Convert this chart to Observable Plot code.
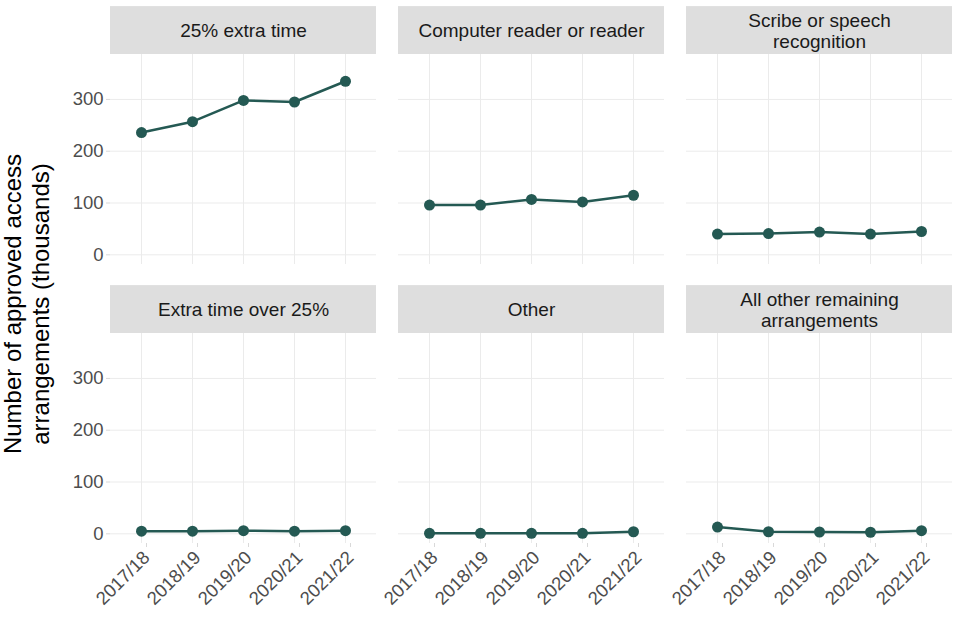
<!DOCTYPE html>
<html>
<head>
<meta charset="utf-8">
<script src="https://cdn.jsdelivr.net/npm/d3@7"></script>
<script src="https://cdn.jsdelivr.net/npm/@observablehq/plot@0.6"></script>
<style>
  html, body { margin: 0; padding: 0; background: #fff; }
  #wrap { position: relative; width: 960px; height: 640px; font-family: "Liberation Sans", Arial, sans-serif; }
  #ylab { position: absolute; left: -173px; top: 276px; width: 400px; text-align: center;
          font-size: 24px; line-height: 28px; color: #000; transform: rotate(-90deg); transform-origin: 50% 50%; }
  #chart { position: absolute; left: 0; top: 0; }
</style>
</head>
<body>
<div id="wrap">
  <div id="chart"></div>
  <div id="ylab">Number of approved access<br>arrangements (thousands)</div>
</div>
<script>
const years = ["2017/18", "2018/19", "2019/20", "2020/21", "2021/22"];
const categories = ["25% extra time", "Computer reader or reader", "Scribe or speech recognition",
                    "Extra time over 25%", "Other", "All other remaining arrangements"];
const stripLabels = ["25% extra time", "Computer reader or reader", "Scribe or speech\nrecognition",
                     "Extra time over 25%", "Other", "All other remaining\narrangements"];
const extraTime25 = [236, 257, 298, 295, 335];
const computerReader = [96, 96, 107, 102, 115];
const scribeSpeech = [40, 41, 44, 40, 45];
const extraTimeOver25 = [5, 5, 6, 5, 6];
const otherArr = [1, 1, 1, 1, 4];
const allOtherRemaining = [13, 4, 3.5, 3, 6];
const yTicks = [0, 100, 200, 300];

const seriesValues = [extraTime25, computerReader, scribeSpeech, extraTimeOver25, otherArr, allOtherRemaining];

const data = [];
categories.forEach((cat, i) => {
  seriesValues[i].forEach((v, j) => {
    data.push({cat, year: years[j], value: v, col: i % 3, row: Math.floor(i / 3)});
  });
});
const panels = categories.map((cat, i) => ({cat, label: stripLabels[i], col: i % 3, row: Math.floor(i / 3)}));

const yTop = 386.7, yBottom = -18.7;
const pxPerUnit = 210.5 / (yTop - yBottom);
const stripUnits = 48 / pxPerUnit;

const lineColor = "#245953";

const chart = Plot.plot({
  width: 960,
  height: 640,
  marginLeft: 110,
  marginRight: 7,
  marginTop: 53,
  marginBottom: 97,
  style: {fontFamily: "'Liberation Sans', Arial, sans-serif", fontSize: "18.5px", background: "transparent"},
  fx: {domain: [0, 1, 2], paddingInner: 0.0763, paddingOuter: 0, axis: null},
  fy: {domain: [0, 1], paddingInner: 0.2477, paddingOuter: 0, axis: null},
  x: {type: "point", domain: years, padding: 0.58},
  y: {domain: [yBottom, yTop]},
  marks: [
    Plot.gridX({stroke: "#ebebeb", strokeOpacity: 1, strokeWidth: 1}),
    Plot.gridY(yTicks, {stroke: "#ebebeb", strokeOpacity: 1, strokeWidth: 1}),
    Plot.rect(panels, {fx: "col", fy: "row", y1: () => yTop, y2: () => yTop + stripUnits, fill: "#dedede"}),
    Plot.text(panels, {fx: "col", fy: "row", text: "label", frameAnchor: "top", lineAnchor: "middle", dy: -24,
                       fontSize: 19, fill: "#1a1a1a", lineHeight: 1.12}),
    Plot.axisY(yTicks, {tickSize: 4, tickPadding: 3, stroke: "#d9d9d9", fill: "#4d4d4d", fontSize: 18.5, label: null}),
    Plot.axisX({tickSize: 4, tickPadding: 7, tickRotate: -45, dx: 5, stroke: "#d9d9d9", fill: "#4d4d4d", fontSize: 18.5, label: null}),
    Plot.line(data, {fx: "col", fy: "row", x: "year", y: "value", z: "cat", stroke: lineColor, strokeWidth: 2.5}),
    Plot.dot(data, {fx: "col", fy: "row", x: "year", y: "value", fill: lineColor, r: 5.5, stroke: "none"})
  ]
});
document.getElementById("chart").appendChild(chart);
</script>
</body>
</html>
